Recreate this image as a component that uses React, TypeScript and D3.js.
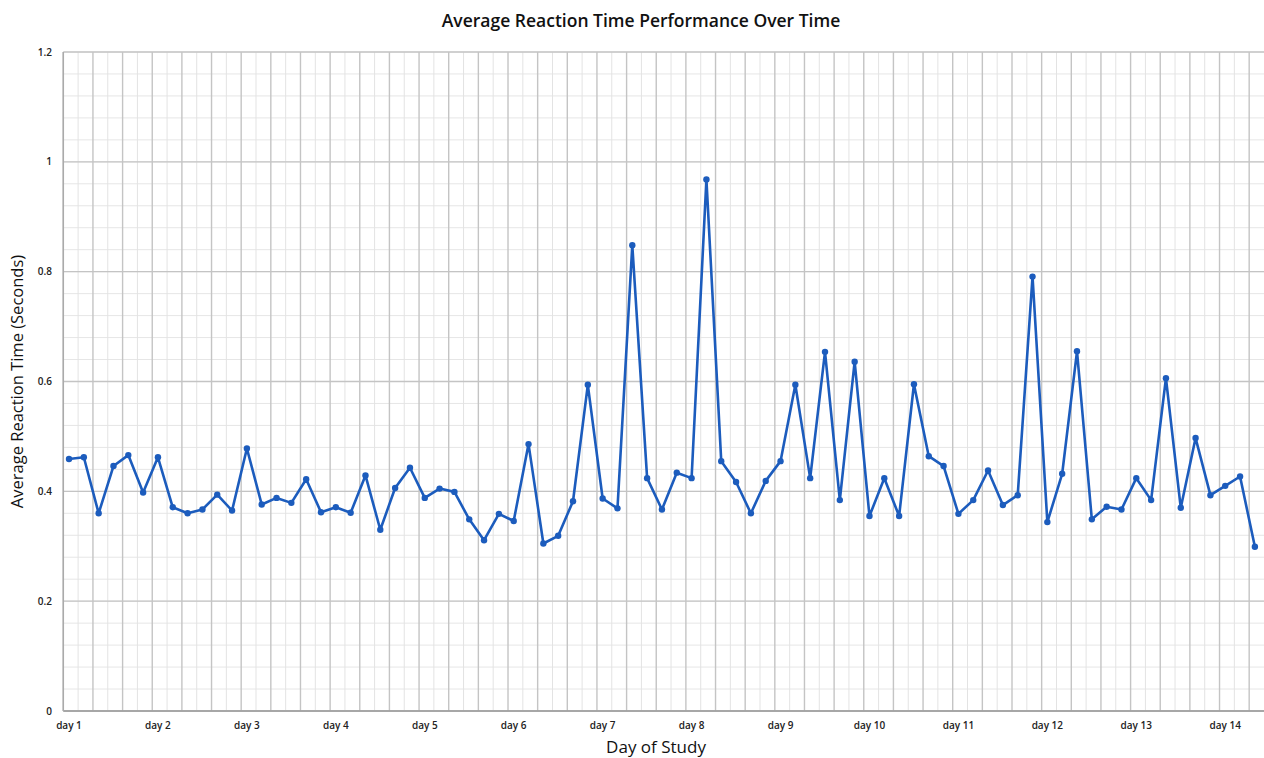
import React, { useRef, useEffect } from 'react';
import * as d3 from 'd3';

// one value per session, 6 sessions per day
const reactionTimes = [
  0.459, 0.462, 0.360, 0.446, 0.466, 0.398,
  0.462, 0.371, 0.360, 0.367, 0.394, 0.365,
  0.478, 0.376, 0.388, 0.379, 0.422, 0.362,
  0.371, 0.361, 0.429, 0.330, 0.406, 0.443,
  0.388, 0.405, 0.399, 0.349, 0.311, 0.359,
  0.346, 0.486, 0.305, 0.319, 0.382, 0.594,
  0.387, 0.369, 0.848, 0.424, 0.367, 0.434,
  0.424, 0.968, 0.455, 0.417, 0.360, 0.419,
  0.455, 0.594, 0.424, 0.654, 0.384, 0.636,
  0.355, 0.424, 0.355, 0.595, 0.464, 0.446,
  0.359, 0.384, 0.438, 0.375, 0.393, 0.791,
  0.344, 0.432, 0.655, 0.349, 0.372, 0.367,
  0.424, 0.384, 0.606, 0.370, 0.497, 0.393,
  0.410, 0.427, 0.299,
];
const dayLabels = [
  'day 1', 'day 2', 'day 3', 'day 4', 'day 5', 'day 6', 'day 7',
  'day 8', 'day 9', 'day 10', 'day 11', 'day 12', 'day 13', 'day 14',
];
const sessionsPerDay = 6;
const yTicks = [0, 0.2, 0.4, 0.6, 0.8, 1, 1.2];

const App = () => {
  const svgRef = useRef<SVGSVGElement>(null);

  useEffect(() => {
    const svg = d3.select(svgRef.current);
    svg.selectAll('*').remove();

    const width = 1264, height = 758;
    const left = 63.3, right = 1264, top = 52, bottom = 711;
    const font = "'Open Sans', 'DejaVu Sans', sans-serif";
    const blue = '#1c5cbd';

    const x = d3.scaleBand<number>()
      .domain(d3.range(reactionTimes.length))
      .range([left, right])
      .padding(0);
    const bw = x.bandwidth();
    const px = (i: number) => (x(i) as number) + bw * 0.385;
    const y = d3.scaleLinear().domain([0, 1.2]).range([bottom, top]);

    svg.attr('width', width).attr('height', height);
    svg.append('rect').attr('width', width).attr('height', height).attr('fill', '#fff');

    const grid = svg.append('g');
    // minor horizontal lines
    const minorY = d3.range(0, 1.2001, 0.04);
    grid.selectAll('.hminor').data(minorY).enter().append('line')
      .attr('x1', left).attr('x2', right)
      .attr('y1', d => y(d)).attr('y2', d => y(d))
      .attr('stroke', '#e6e6e6').attr('stroke-width', 1);
    // vertical lines, darker every second session
    grid.selectAll('.vminor').data(d3.range(reactionTimes.length)).enter().append('line')
      .attr('x1', d => x(d) as number).attr('x2', d => x(d) as number)
      .attr('y1', top).attr('y2', bottom)
      .attr('stroke', d => (d % 2 === 0 ? '#c4c4c4' : '#e3e3e3'))
      .attr('stroke-width', d => (d % 2 === 0 ? 1.4 : 1));
    // major horizontal lines
    grid.selectAll('.hmajor').data(yTicks).enter().append('line')
      .attr('x1', left).attr('x2', right)
      .attr('y1', d => y(d)).attr('y2', d => y(d))
      .attr('stroke', '#c4c4c4').attr('stroke-width', 1.4);

    // axis lines
    svg.append('line').attr('x1', left).attr('x2', right).attr('y1', bottom).attr('y2', bottom)
      .attr('stroke', '#9a9a9a').attr('stroke-width', 1.5);
    svg.append('line').attr('x1', left).attr('x2', left).attr('y1', top).attr('y2', bottom)
      .attr('stroke', '#aaaaaa').attr('stroke-width', 1.5);

    // y tick labels
    svg.selectAll('.ylab').data(yTicks).enter().append('text')
      .attr('x', 52).attr('y', d => y(d)).attr('dy', '0.35em')
      .attr('text-anchor', 'end')
      .attr('font-family', font).attr('font-size', 10).attr('font-weight', 600)
      .attr('fill', '#222')
      .text(d => String(d));

    // x tick labels
    svg.selectAll('.xlab').data(dayLabels).enter().append('text')
      .attr('x', (d, i) => px(i * sessionsPerDay))
      .attr('y', 729)
      .attr('text-anchor', 'middle')
      .attr('font-family', font).attr('font-size', 10).attr('font-weight', 600)
      .attr('fill', '#222')
      .text(d => d);

    // line
    const line = d3.line<number>().x((d, i) => px(i)).y(d => y(d));
    svg.append('path').datum(reactionTimes)
      .attr('fill', 'none').attr('stroke', blue).attr('stroke-width', 2.6)
      .attr('stroke-linejoin', 'round')
      .attr('d', line);
    svg.selectAll('.pt').data(reactionTimes).enter().append('circle')
      .attr('cx', (d, i) => px(i)).attr('cy', d => y(d)).attr('r', 3.2)
      .attr('fill', blue);

    // titles
    svg.append('text').attr('x', 641).attr('y', 27).attr('text-anchor', 'middle')
      .attr('font-family', font).attr('font-size', 17.5).attr('font-weight', 600).attr('fill', '#111')
      .text('Average Reaction Time Performance Over Time');
    svg.append('text').attr('x', 656).attr('y', 753).attr('text-anchor', 'middle')
      .attr('font-family', font).attr('font-size', 17).attr('fill', '#111')
      .text('Day of Study');
    svg.append('text')
      .attr('transform', `translate(23,${(top + bottom) / 2}) rotate(-90)`)
      .attr('text-anchor', 'middle')
      .attr('font-family', font).attr('font-size', 16.5).attr('fill', '#111')
      .text('Average Reaction Time (Seconds)');
  }, []);

  return <svg ref={svgRef} style={{ position: 'absolute', left: 0, top: 0 }}></svg>;
};

export default App;
